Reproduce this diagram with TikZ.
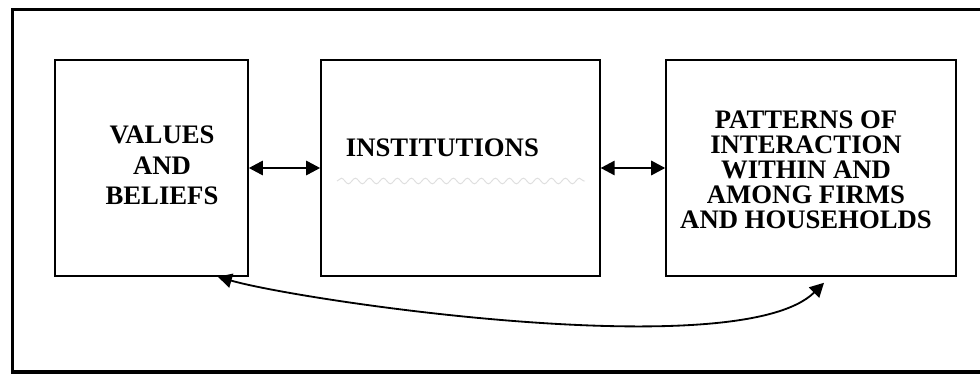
\documentclass[tikz,border=0pt]{standalone}
\usepackage{fontspec}
\setmainfont{Liberation Serif}
\usetikzlibrary{arrows.meta, decorations.pathmorphing}

\tikzset{
  box/.style={draw, line width=1.1pt, minimum height=5.4cm},
  boxtext/.style={font=\bfseries\fontsize{19}{21.7}\selectfont, align=center, inner sep=0pt},
  twoway/.style={line width=1.3pt, >={Triangle[length=0.35cm,width=0.36cm]}, <->}
}

\begin{document}
\begin{tikzpicture}
    \useasboundingbox (0,0) rectangle (24.5,9.375);
    % Outer frame
    \draw[line width=2.6pt] (24.6,9.14) -- (0.31,9.14) -- (0.31,0.08) -- (24.6,0.08);
    % Boxes
    \node[box, minimum width=4.825cm] (values) at (3.79,5.175) {};
    \node[box, minimum width=6.975cm] (inst) at (11.51,5.175) {};
    \node[box, minimum width=7.25cm] (patterns) at (20.275,5.175) {};
    % Texts
    \node[boxtext] (valuestext) at (4.05,5.2375) {VALUES\\AND\\BELIEFS};
    \node[boxtext] (insttext) at (11.06,5.6875) {INSTITUTIONS};
    \node[boxtext, font=\bfseries\fontsize{19}{17.8}\selectfont] (patternstext) at (20.15,5.1375)
        {PATTERNS OF\\INTERACTION\\WITHIN AND\\AMONG FIRMS\\AND HOUSEHOLDS};
    % Wavy underline
    \draw[gray!25, line width=0.7pt, decorate, decoration={snake, segment length=0.35cm, amplitude=0.07cm}]
        (8.425,4.85) -- (14.625,4.85);
    % Links
    \draw[twoway] (values.east) -- (inst.west);
    \draw[twoway] (inst.east) -- (patterns.west);
    \draw[twoway] ([xshift=-0.775cm]values.south east) .. controls +(2.075,-0.6) and +(-2.1,-2.075)
        .. ([xshift=0.325cm, yshift=-0.15cm]patterns.south);
\end{tikzpicture}
\end{document}
